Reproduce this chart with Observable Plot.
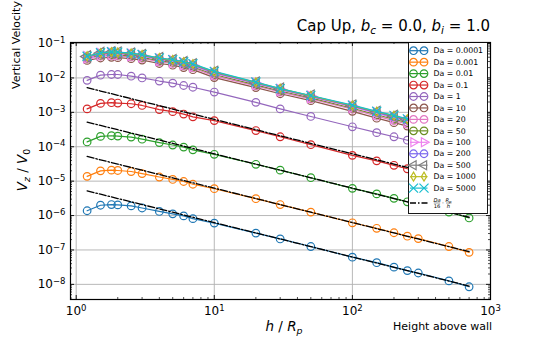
<!DOCTYPE html>
<html><head><meta charset="utf-8">
<script src="https://cdn.jsdelivr.net/npm/d3@7"></script>
<script src="https://cdn.jsdelivr.net/npm/@observablehq/plot@0.6"></script>
<style>body{margin:0;background:#fff} svg{font-family:"DejaVu Sans",sans-serif;background:#fff}</style>
</head><body><div id="chart"></div>
<script>
// ---- data (log10 of V_z/V_0) ----
const heights = [1.2,1.5,1.8,2,2.5,3,4,5,6,7,10,20,30,50,100,150,200,250,300,500,700];
const daLabels = ["0.0001","0.001","0.01","0.1","1","10","20","50","100","200","500","1000","5000"];
const daColors = ["#1f77b4","#ff7f0e","#2ca02c","#d62728","#9467bd","#8c564b","#e377c2","#6b8e23","#ee82ee","#7b68ee","#7f7f7f","#bcbd22","#17becf"];
const daMarkers = ["o","o","o","o","o","o","o","o",">","o","<","d","x"];
const logV_Da0_0001 = [-5.86,-5.70,-5.68,-5.69,-5.72,-5.78,-5.88,-5.95,-6.01,-6.09,-6.22,-6.51,-6.68,-6.90,-7.21,-7.37,-7.50,-7.60,-7.67,-7.90,-8.07];
const logV_Da0_001  = [-4.86,-4.70,-4.68,-4.69,-4.72,-4.78,-4.88,-4.95,-5.01,-5.09,-5.22,-5.51,-5.68,-5.90,-6.21,-6.37,-6.50,-6.60,-6.67,-6.90,-7.07];
const logV_Da0_01   = [-3.86,-3.70,-3.68,-3.69,-3.72,-3.78,-3.88,-3.95,-4.01,-4.09,-4.22,-4.51,-4.68,-4.90,-5.21,-5.37,-5.50,-5.60,-5.67,-5.90,-6.07];
const logV_Da0_1    = [-2.90,-2.74,-2.72,-2.73,-2.75,-2.80,-2.92,-2.98,-3.05,-3.13,-3.24,-3.53,-3.71,-3.94,-4.25,-4.41,-4.54,-4.64,-4.71,-4.94,-5.10];
const logV_Da1      = [-2.07,-1.92,-1.90,-1.90,-1.95,-2.00,-2.09,-2.15,-2.22,-2.27,-2.41,-2.71,-2.90,-3.12,-3.42,-3.59,-3.71,-3.81,-3.88,-4.10,-4.27];
const logV_Da10     = [-1.49,-1.42,-1.40,-1.41,-1.44,-1.48,-1.58,-1.63,-1.70,-1.76,-1.99,-2.28,-2.46,-2.66,-2.97,-3.17,-3.30,-3.40,-3.47,-3.70,-3.87];
const logV_Da20     = [-1.44,-1.37,-1.35,-1.36,-1.39,-1.43,-1.53,-1.58,-1.65,-1.71,-1.94,-2.23,-2.41,-2.61,-2.91,-3.11,-3.24,-3.34,-3.41,-3.64,-3.81];
const logV_Da50     = [-1.42,-1.34,-1.32,-1.33,-1.36,-1.40,-1.50,-1.55,-1.62,-1.68,-1.90,-2.20,-2.38,-2.58,-2.88,-3.07,-3.20,-3.30,-3.37,-3.60,-3.77];
const logV_Da100    = [-1.40,-1.31,-1.29,-1.30,-1.33,-1.37,-1.47,-1.52,-1.59,-1.65,-1.87,-2.17,-2.35,-2.55,-2.84,-3.03,-3.16,-3.26,-3.33,-3.56,-3.73];
const logV_Da200    = [-1.39,-1.30,-1.27,-1.28,-1.31,-1.35,-1.45,-1.50,-1.57,-1.63,-1.85,-2.15,-2.33,-2.54,-2.82,-3.01,-3.13,-3.23,-3.30,-3.53,-3.70];
const logV_Da500    = [-1.38,-1.28,-1.26,-1.27,-1.30,-1.34,-1.43,-1.49,-1.55,-1.61,-1.83,-2.14,-2.32,-2.52,-2.81,-2.99,-3.11,-3.21,-3.28,-3.51,-3.68];
const logV_Da1000   = [-1.37,-1.28,-1.25,-1.26,-1.29,-1.33,-1.42,-1.48,-1.54,-1.60,-1.82,-2.13,-2.31,-2.52,-2.80,-2.98,-3.10,-3.20,-3.28,-3.50,-3.67];
const logV_Da5000   = [-1.37,-1.27,-1.24,-1.25,-1.28,-1.32,-1.42,-1.47,-1.53,-1.59,-1.81,-2.12,-2.31,-2.51,-2.79,-2.97,-3.09,-3.19,-3.27,-3.49,-3.66];
const analyticDa = [0.0001,0.001,0.01,0.1];
const xTickExps = [0,1,2,3];
const yTickExps = [-8,-7,-6,-5,-4,-3,-2,-1];

const allLogV = [logV_Da0_0001,logV_Da0_001,logV_Da0_01,logV_Da0_1,logV_Da1,logV_Da10,logV_Da20,logV_Da50,logV_Da100,logV_Da200,logV_Da500,logV_Da1000,logV_Da5000];

// ---- layout ----
const W=545, H=337, mL=70, mR=55, mT=42, mB=38;
const fw=W-mL-mR, fh=H-mT-mB;
const xDomain=[Math.pow(10,-0.0412),1000], yDomain=[Math.pow(10,-8.44),Math.pow(10,-0.97)];

const thinDiamond = {draw(ctx,size){const r=Math.sqrt(size/Math.PI); const w=r*0.62, h=r*1.05; ctx.moveTo(0,-h);ctx.lineTo(w,0);ctx.lineTo(0,h);ctx.lineTo(-w,0);ctx.closePath();}};
function symFor(m){ if(m==="o")return "circle"; if(m===">"||m==="<")return "triangle"; if(m==="d")return thinDiamond; return "times"; }
function rotFor(m){ return m===">"?90:(m==="<"?-90:0); }
function rFor(m){ return m==="x"?4.2:(m==="o"?3.8:4.3); }

const marks=[];
const xMajor=xTickExps.map(e=>Math.pow(10,e));
const yMajor=yTickExps.map(e=>Math.pow(10,e));
const xMinor=[], yMinor=[];
for(let e=-1;e<3;e++) for(let k=2;k<10;k++){const v=k*Math.pow(10,e); if(v>xDomain[0]&&v<xDomain[1]) xMinor.push(v);}
for(let e=-9;e<0;e++) for(let k=2;k<10;k++){const v=k*Math.pow(10,e); if(v>yDomain[0]&&v<yDomain[1]) yMinor.push(v);}

marks.push(Plot.gridX(xMajor,{stroke:"#b0b0b0",strokeOpacity:1,strokeWidth:0.9}));
marks.push(Plot.gridY(yMajor,{stroke:"#b0b0b0",strokeOpacity:1,strokeWidth:0.9}));

allLogV.forEach((arr,i)=>{
  const d=heights.map((h,j)=>({h, v:Math.pow(10,arr[j])}));
  marks.push(Plot.line(d,{x:"h",y:"v",stroke:daColors[i],strokeWidth:1.2}));
  marks.push(Plot.dot(d,{x:"h",y:"v",stroke:daColors[i],fill:"none",strokeWidth:1.2,r:rFor(daMarkers[i]),symbol:symFor(daMarkers[i]),rotate:rotFor(daMarkers[i])}));
});
analyticDa.forEach(da=>{
  const d=heights.map(h=>({h, v:da/16/h}));
  marks.push(Plot.line(d,{x:"h",y:"v",stroke:"black",strokeWidth:1.3,strokeDasharray:"7,2,1.5,2"}));
});

// ticks (inward, all four sides)
marks.push(Plot.tickX(xMajor,{x:d=>d,insetTop:fh-4,stroke:"black",strokeWidth:0.9}));
marks.push(Plot.tickX(xMajor,{x:d=>d,insetBottom:fh-4,stroke:"black",strokeWidth:0.9}));
marks.push(Plot.tickX(xMinor,{x:d=>d,insetTop:fh-2,stroke:"black",strokeWidth:0.7}));
marks.push(Plot.tickX(xMinor,{x:d=>d,insetBottom:fh-2,stroke:"black",strokeWidth:0.7}));
marks.push(Plot.tickY(yMajor,{y:d=>d,insetRight:fw-4,stroke:"black",strokeWidth:0.9}));
marks.push(Plot.tickY(yMajor,{y:d=>d,insetLeft:fw-4,stroke:"black",strokeWidth:0.9}));
marks.push(Plot.tickY(yMinor,{y:d=>d,insetRight:fw-2,stroke:"black",strokeWidth:0.7}));
marks.push(Plot.tickY(yMinor,{y:d=>d,insetLeft:fw-2,stroke:"black",strokeWidth:0.7}));
marks.push(Plot.axisX(xMajor,{tickSize:0,tickPadding:7,fontSize:12,tickFormat:d=>String(Math.round(Math.log10(d))),label:null}));
marks.push(Plot.axisY(yMajor,{tickSize:0,tickPadding:5,fontSize:12,tickFormat:d=>String(Math.round(Math.log10(d))),label:null}));
marks.push(Plot.frame({stroke:"black",strokeWidth:1.2}));

const svg = Plot.plot({
  width:W,height:H,marginLeft:mL,marginRight:mR,marginTop:mT,marginBottom:mB,
  x:{type:"log",domain:xDomain},
  y:{type:"log",domain:yDomain},
  style:{fontFamily:"DejaVu Sans",fontSize:"12px",color:"black",background:"white",overflow:"visible"},
  marks
});
document.getElementById("chart").appendChild(svg);

const NS="http://www.w3.org/2000/svg";
// superscript exponents in tick labels
svg.querySelectorAll('g[aria-label="x-axis tick label"] text, g[aria-label="y-axis tick label"] text').forEach(t=>{
  const e=t.textContent; t.textContent="";
  const a=document.createElementNS(NS,"tspan"); a.textContent="10"; t.appendChild(a);
  const b=document.createElementNS(NS,"tspan"); b.setAttribute("dy","-0.5em"); b.setAttribute("font-size","8.5px"); b.textContent=e.replace("-","\u2212"); t.appendChild(b);
});

const root=d3.select(svg);
function mathText(x,y,anchor,size,segs,rot){
  const t=root.append("text").attr("x",x).attr("y",y).attr("text-anchor",anchor).attr("font-size",size).attr("fill","black");
  if(rot) t.attr("transform",`rotate(${rot},${x},${y})`);
  let cur=0;
  segs.forEach(s=>{
    const target=s.sub?size*0.22:(s.sup?-size*0.4:0);
    const ts=t.append("tspan").text(s.t).attr("dy",target-cur);
    cur=target;
    if(s.sub||s.sup) ts.attr("font-size",size*0.7);
    if(s.i) ts.attr("font-style","italic");
  });
  return t;
}
// title
mathText(490,31,"end",15,[{t:"Cap Up, "},{t:"b",i:1},{t:"c",i:1,sub:1},{t:" = 0.0, "},{t:"b",i:1},{t:"i",i:1,sub:1},{t:" = 1.0"}]);
// axis labels
mathText(284,331,"middle",13.5,[{t:"h",i:1},{t:" / "},{t:"R",i:1},{t:"p",i:1,sub:1}]);
mathText(492,330,"end",11,[{t:"Height above wall"}]);
mathText(27,170,"middle",13.5,[{t:"V",i:1},{t:"z",i:1,sub:1},{t:" / "},{t:"V",i:1},{t:"0",sub:1}],-90);
mathText(20,45,"middle",11,[{t:"Vertical Velocity"}],-90);

// legend
const lg=root.append("g").attr("text-anchor","start");
lg.append("rect").attr("x",408.5).attr("y",42.5).attr("width",79).attr("height",171).attr("fill","white").attr("stroke","black").attr("stroke-width",0.9);
daLabels.forEach((lab,i)=>{
  const y=50.7+11.45*i;
  lg.append("line").attr("x1",410).attr("x2",427.5).attr("y1",y).attr("y2",y).attr("stroke",daColors[i]).attr("stroke-width",1.2);
  const m=daMarkers[i];
  const r=rFor(m);
  const type=m==="o"?d3.symbolCircle:(m==="x"?d3.symbolTimes:(m==="d"?thinDiamond:d3.symbolTriangle2));
  [413.5,424].forEach(cx=>{
    lg.append("path").attr("d",d3.symbol(type,Math.PI*r*r)()).attr("transform",`translate(${cx},${y}) rotate(${rotFor(m)})`)
      .attr("fill","none").attr("stroke",daColors[i]).attr("stroke-width",1.2);
  });
  lg.append("text").attr("x",433.5).attr("y",y).attr("dy","0.35em").attr("font-size",7.8).attr("text-anchor","start").text("Da = "+lab);
});
{
  const y=203;
  lg.append("line").attr("x1",410).attr("x2",427.5).attr("y1",y).attr("y2",y).attr("stroke","black").attr("stroke-width",1.3).attr("stroke-dasharray","6,2,1.5,2");
  lg.append("text").attr("x",437).attr("y",y-1.5).attr("text-anchor","middle").attr("font-size",5.2).attr("font-style","italic").text("Da");
  lg.append("line").attr("x1",433.8).attr("x2",440.2).attr("y1",y).attr("y2",y).attr("stroke","black").attr("stroke-width",0.4);
  lg.append("text").attr("x",437).attr("y",y+5.2).attr("text-anchor","middle").attr("font-size",5.2).text("16");
  lg.append("text").attr("x",443).attr("y",y+1.8).attr("text-anchor","middle").attr("font-size",6).text("\u00b7");
  lg.append("text").attr("x",448.5).attr("y",y-1.5).attr("text-anchor","middle").attr("font-size",5.2).attr("font-style","italic").text("R").append("tspan").attr("font-size",3.8).attr("dy",1).text("p");
  lg.append("line").attr("x1",446).attr("x2",451.5).attr("y1",y).attr("y2",y).attr("stroke","black").attr("stroke-width",0.4);
  lg.append("text").attr("x",448.5).attr("y",y+5.2).attr("text-anchor","middle").attr("font-size",5.2).attr("font-style","italic").text("h");
}
</script></body></html>
